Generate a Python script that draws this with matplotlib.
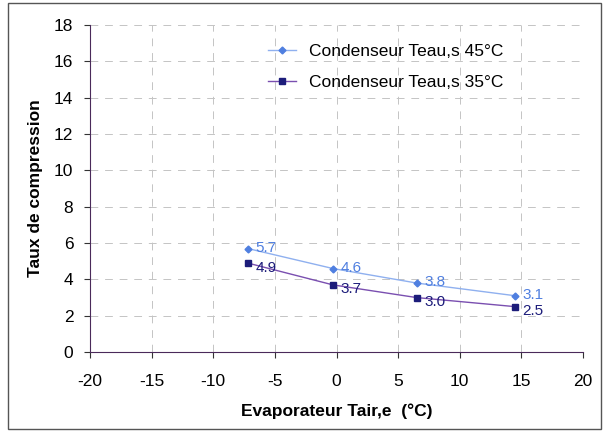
import matplotlib
matplotlib.use("Agg")
import matplotlib.pyplot as plt
from matplotlib.patches import Rectangle

plt.rcParams["font.family"] = ["Liberation Sans", "DejaVu Sans"]
plt.rcParams["axes.unicode_minus"] = False

# data
t_air = [-7.2, -0.3, 6.5, 14.5]
taux_45 = [5.7, 4.6, 3.8, 3.1]
taux_35 = [4.9, 3.7, 3.0, 2.5]
labels_45 = ["5.7", "4.6", "3.8", "3.1"]
labels_35 = ["4.9", "3.7", "3.0", "2.5"]

c45 = "#4f7fe0"
c35 = "#1c1c7a"

fig = plt.figure(figsize=(6.08, 4.32), dpi=100)
fig.patches.append(Rectangle((0.013, 0.008), 0.975, 0.984, transform=fig.transFigure,
                             fill=False, edgecolor="#555555", linewidth=1.0))
ax = fig.add_axes([0.148, 0.185, 0.811, 0.757])

ax.plot(t_air, taux_45, color="#8fb0ef", lw=1, marker="D", ms=3.5,
        mfc=c45, mec=c45, label="Condenseur Teau,s 45°C")
ax.plot(t_air, taux_35, color="#7a4fb0", lw=1, marker="s", ms=4,
        mfc=c35, mec=c35, label="Condenseur Teau,s 35°C")

# value labels, the lower series nudged down so the last two don't collide
for x, y, s in zip(t_air, taux_45, labels_45):
    ax.text(x + 0.6, y + 0.05, s, color=c45, fontsize=11, va="center", ha="left")
for x, y, s in zip(t_air, taux_35, labels_35):
    ax.text(x + 0.6, y - 0.25, s, color=c35, fontsize=11, va="center", ha="left")

ax.set_xlim(-20, 20)
ax.set_ylim(0, 18)
ax.set_xticks(range(-20, 21, 5))
ax.set_yticks(range(0, 19, 2))
ax.tick_params(labelsize=12.5, length=4, color="#333333")
ax.tick_params(axis="x", pad=12)
ax.tick_params(axis="y", pad=8)
ax.grid(True, linestyle=(0, (8, 7)), color="#c4c4c4", linewidth=0.7)
ax.spines["top"].set_visible(False)
ax.spines["right"].set_visible(False)
ax.spines["left"].set_color("#4a2a5a")
ax.spines["bottom"].set_color("#4a2a5a")

ax.set_xlabel("Evaporateur Tair,e  (°C)", fontsize=12.5, fontweight="bold", labelpad=10)
ax.set_ylabel("Taux de compression", fontsize=12.5, fontweight="bold", labelpad=8)

ax.legend(loc="upper center", bbox_to_anchor=(0.6, 0.99), frameon=False,
          fontsize=12.5, handlelength=1.6, labelspacing=0.9)

fig.savefig("out.png", dpi=100)
